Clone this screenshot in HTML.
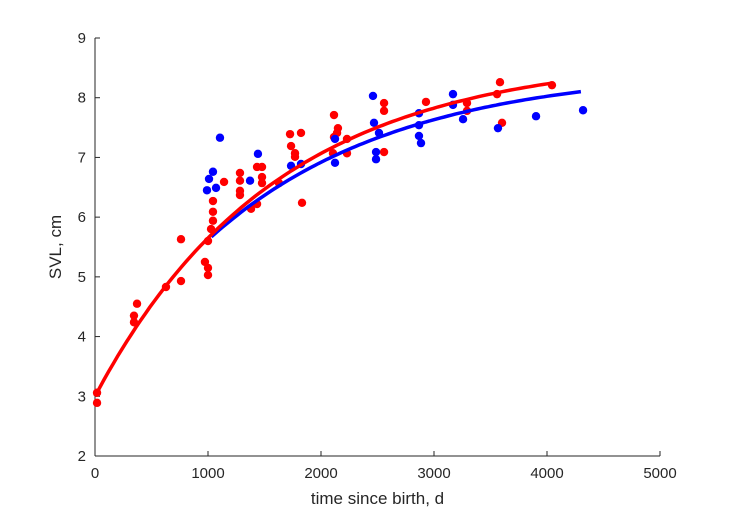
<!DOCTYPE html>
<html><head><meta charset="utf-8"><style>
body{margin:0;background:#fff;}
svg{display:block;font-family:"Liberation Sans",Arial,sans-serif;}
</style></head><body>
<svg id="chart" width="729" height="521" xmlns="http://www.w3.org/2000/svg">
<rect width="729" height="521" fill="#fff"/>
<g id="axes"></g>
<g id="marks"></g>
</svg>
<script>
const xTicks=[0,1000,2000,3000,4000,5000];
const yTicks=[2,3,4,5,6,7,8,9];
const redT=[18,18,372,345,345,628,761,761,973,1000,1000,1000,1027,1044,1044,1044,1142,1283,1283,1283,1283,1381,1434,1434,1478,1478,1478,1628,1726,1735,1770,1770,1823,1832,2106,2142,2115,2150,2115,2230,2230,2558,2558,2558,2929,3292,3292,3584,3558,3602,4044];
const redL=[3.06,2.89,4.55,4.35,4.24,4.83,5.63,4.93,5.25,5.15,5.03,5.60,5.80,5.94,6.09,6.27,6.59,6.74,6.61,6.44,6.37,6.14,6.22,6.84,6.84,6.67,6.57,6.57,7.39,7.19,7.07,7.01,7.41,6.24,7.07,7.41,7.71,7.49,7.34,7.31,7.07,7.91,7.78,7.09,7.93,7.91,7.78,8.26,8.06,7.58,8.21];
const blueT=[1106,1044,1009,991,1071,1372,1442,1735,1823,2124,2124,2460,2469,2513,2487,2487,2867,2867,2867,2885,3168,3168,3257,3566,3903,4319];
const blueL=[7.33,6.76,6.64,6.45,6.49,6.61,7.06,6.86,6.89,7.31,6.91,8.03,7.58,7.41,7.09,6.97,7.74,7.54,7.36,7.24,8.06,7.88,7.64,7.49,7.69,7.79];
const redFit=[8.7,5.7,0.000625,0,4044];   // Linf, A, k, tStart, tEnd
const blueFit=[8.5,5.25,0.0006,1030,4300];

const X0=95,X1=660,Y0=456,Y1=38;
const sx=t=>X0+(t-0)/(5000-0)*(X1-X0);
const sy=v=>Y0-(v-2)/(9-2)*(Y0-Y1);
const NS="http://www.w3.org/2000/svg";
const axes=document.getElementById('axes'),marks=document.getElementById('marks');
function mk(tag,attrs,parent){const e=document.createElementNS(NS,tag);for(const k in attrs)e.setAttribute(k,attrs[k]);parent.appendChild(e);return e;}

const xl=mk('line',{x1:X0,y1:Y0,x2:X1,y2:Y0,stroke:'#262626','stroke-width':1},axes);


const yl=mk('line',{x1:X0,y1:Y0,x2:X0,y2:Y1,stroke:'#262626','stroke-width':1},axes);


xTicks.forEach(t=>{
  mk('line',{x1:sx(t),y1:Y0,x2:sx(t),y2:Y0-5,stroke:'#262626'},axes);
  const tx=mk('text',{x:sx(t),y:Y0+22,'text-anchor':'middle','font-size':15,fill:'#262626'},axes);
  tx.textContent=t;
  
  
});
yTicks.forEach(v=>{
  mk('line',{x1:X0,y1:sy(v),x2:X0+5,y2:sy(v),stroke:'#262626'},axes);
  const tx=mk('text',{x:X0-9,y:sy(v)+5,'text-anchor':'end','font-size':15,fill:'#262626'},axes);
  tx.textContent=v;
  
  
});
const xt=mk('text',{x:(X0+X1)/2,y:504,'text-anchor':'middle','font-size':17,fill:'#262626'},axes);
xt.textContent='time since birth, d';


const yt=mk('text',{x:0,y:0,'text-anchor':'middle','font-size':17,fill:'#262626',transform:`translate(61,${(Y0+Y1)/2}) rotate(-90)`},axes);
yt.textContent='SVL, cm';



function pts(T,L,color,name){
  T.forEach((t,i)=>{
    const c=mk('circle',{cx:sx(t),cy:sy(L[i]),r:4.2,fill:color},marks);
    
    
  });
}
function curve(f,color,name){
  const [Linf,A,k,t0,t1]=f;let d='';
  for(let i=0;i<=100;i++){const t=t0+(t1-t0)*i/100;const v=Linf-A*Math.exp(-k*t);d+=(i?'L':'M')+sx(t).toFixed(1)+','+sy(v).toFixed(1);}
  const p=mk('path',{d:d,fill:'none',stroke:color,'stroke-width':3.5},marks);
  
  
}
pts(redT,redL,'#ff0000','red-point');
pts(blueT,blueL,'#0000ff','blue-point');
curve(blueFit,'#0000ff','blue-fit-curve');
curve(redFit,'#ff0000','red-fit-curve');
</script>
</body></html>
